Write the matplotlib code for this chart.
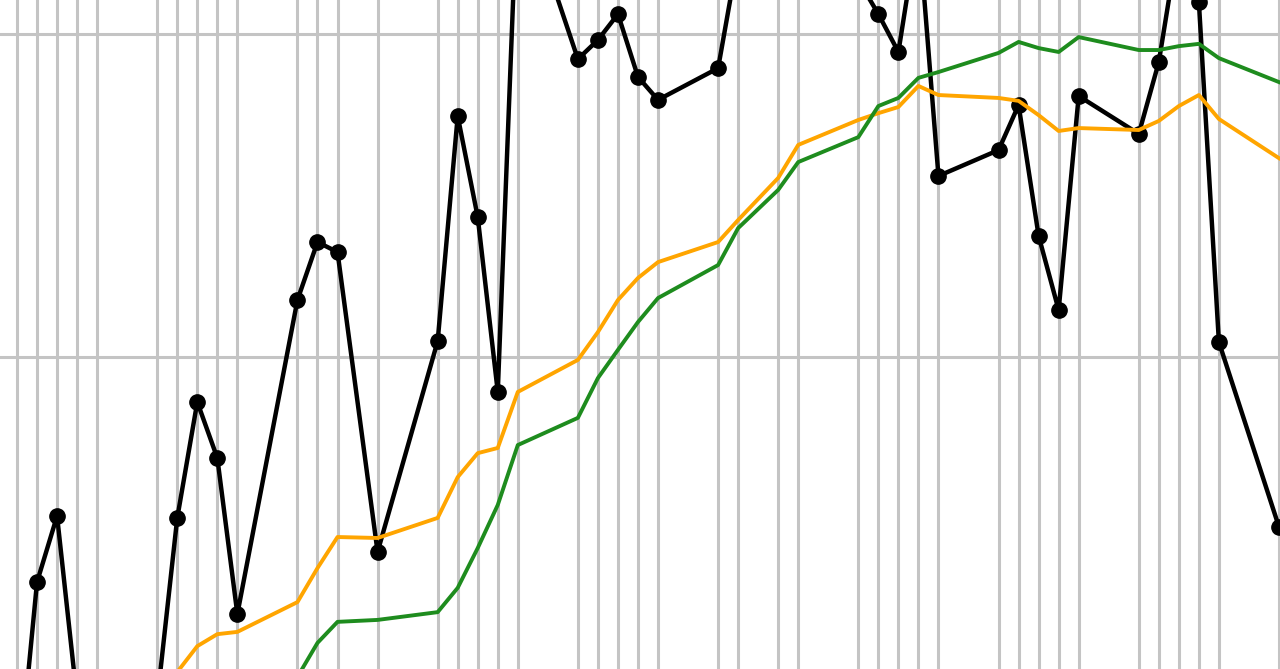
import matplotlib
matplotlib.use("Agg")
import matplotlib.pyplot as plt

# calendar day offsets of the trading days shown (weekends / holidays skipped)
days = [0, 1, 2, 3, 4, 7, 8, 9, 10, 11, 14, 15, 16, 18, 21, 22, 23, 24, 25,
        28, 29, 30, 31, 32, 35, 36, 38, 39, 42, 43, 44, 45, 46, 49, 50, 51,
        52, 53, 56, 57, 58, 59, 60, 63]

# closing price
close = [86.64, 93.06, 95.10, 89.42, 87.56, 89.42, 95.04, 98.62, 96.89, 92.07,
         101.77, 103.56, 103.25, 93.99, 100.50, 107.45, 104.33, 98.93, 114.74,
         109.21, 109.80, 110.60, 108.66, 107.95, 108.93, 112.42, 114.12, 113.51,
         111.65, 110.60, 109.43, 113.35, 105.60, 106.40, 107.79, 103.75, 101.46,
         108.07, 106.90, 109.12, 112.95, 110.97, 100.47, 94.76]

# short moving average
ma_short = [87.56, 87.87, 88.03, 88.18, 88.34, 89.42, 90.28, 91.08, 91.45, 91.52,
            92.44, 93.49, 94.45, 94.42, 95.04, 96.30, 97.04, 97.20, 98.93,
            99.92, 100.78, 101.77, 102.45, 102.94, 103.56, 104.24, 105.54, 106.56,
            107.33, 107.54, 107.73, 108.38, 108.10, 108.01, 107.92, 107.48, 106.99,
            107.08, 107.02, 107.30, 107.76, 108.10, 107.36, 106.15]

# long moving average
ma_long = [86.33, 86.64, 86.79, 86.95, 87.10, 87.56, 88.03, 88.49, 88.80, 88.95,
           90.13, 91.18, 91.83, 91.89, 92.13, 92.88, 94.11, 95.44, 97.29,
           98.13, 99.36, 100.23, 101.09, 101.83, 102.85, 103.99, 105.17, 106.03,
           106.80, 107.76, 108.01, 108.63, 108.81, 109.40, 109.74, 109.55, 109.43,
           109.89, 109.49, 109.49, 109.61, 109.68, 109.24, 108.50]

fig = plt.figure(figsize=(12.8, 6.69), dpi=100)
ax = fig.add_axes([0, 0, 1, 1])

ax.plot(days, close, color="black", linewidth=3.2, marker="o", markersize=11, zorder=3)
ax.plot(days, ma_short, color="orange", linewidth=2.8, zorder=4)
ax.plot(days, ma_long, color="#1e8c1e", linewidth=2.8, zorder=5)

ax.set_xticks(days)
ax.set_yticks([90, 100, 110])
ax.grid(True, color="#c4c4c4", linewidth=2.2)
ax.set_axisbelow(True)
ax.tick_params(length=0, labelbottom=False, labelleft=False)
for s in ax.spines.values():
    s.set_visible(False)

ax.set_xlim(-0.849, 63.05)
ax.set_ylim(90.374, 111.035)

fig.savefig("out.png", dpi=100)
